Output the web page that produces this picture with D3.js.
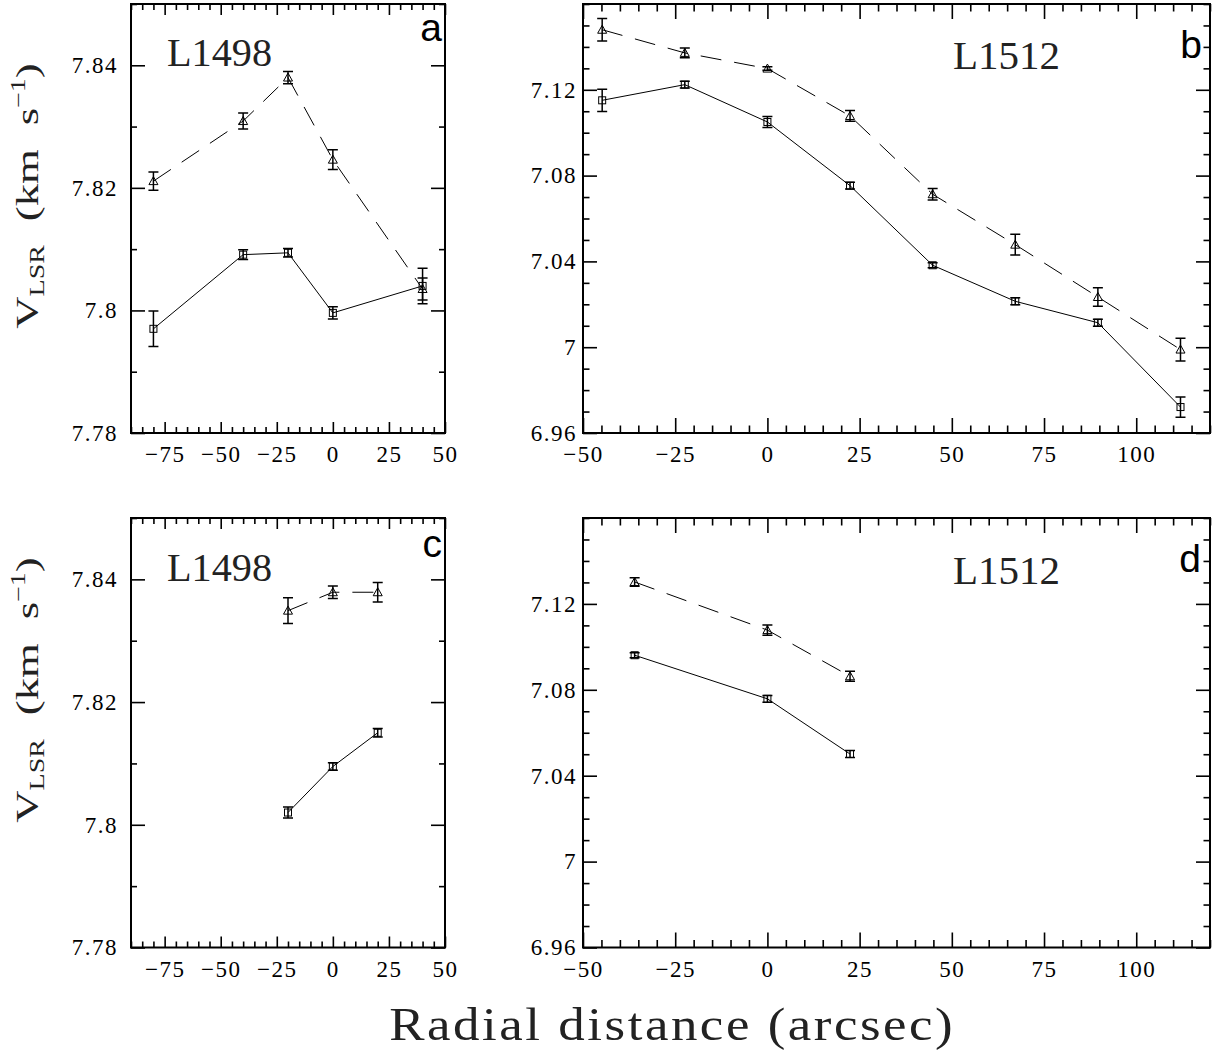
<!DOCTYPE html>
<html>
<head>
<meta charset="utf-8">
<script src="https://cdn.jsdelivr.net/npm/d3@7"></script>
<style>
  body { margin: 0; background: #fff; }
  svg { display: block; }
</style>
</head>
<body>
<script>
// radial velocity profiles, L1498 and L1512 (two cuts each)

// panel a: L1498, first cut
var aDist = [-80, -40, -20, 0, 40];
var aTri = [7.8211, 7.8309, 7.8380, 7.8246, 7.8035];
var aTriErr = [0.0015, 0.0013, 0.0010, 0.0016, 0.0018];
var aSq = [7.7970, 7.8091, 7.8094, 7.7996, 7.8040];
var aSqErr = [0.0029, 0.0008, 0.0007, 0.0010, 0.0029];

// panel b: L1512, first cut
var bDist = [-44.8, -22.4, 0, 22.4, 44.8, 67.2, 89.6, 112];
var bTri = [7.1480, 7.1372, 7.1299, 7.1078, 7.0713, 7.0478, 7.0234, 6.9989];
var bTriErr = [0.0052, 0.0023, 0.0008, 0.0025, 0.0027, 0.0048, 0.0043, 0.0053];
var bSq = [7.1151, 7.1224, 7.1050, 7.0753, 7.0382, 7.0214, 7.0114, 6.9721];
var bSqErr = [0.0052, 0.0016, 0.0026, 0.0016, 0.0012, 0.0016, 0.0016, 0.0047];

// panel c: L1498, second cut
var cDist = [-20, 0, 20];
var cTri = [7.8349, 7.8379, 7.8379];
var cTriErr = [0.0021, 0.0010, 0.0016];
var cSq = [7.8020, 7.8095, 7.8150];
var cSqErr = [0.0009, 0.0006, 0.0007];

// panel d: L1512, second cut
var dDist = [-36, 0, 22.4];
var dTri = [7.1302, 7.1078, 7.0863];
var dTriErr = [0.0020, 0.0024, 0.0023];
var dSq = [7.0961, 7.0758, 7.0501];
var dSqErr = [0.0012, 0.0016, 0.0016];

// axes
var l1498XTicks = [-75, -50, -25, 0, 25, 50];
var l1512XTicks = [-50, -25, 0, 25, 50, 75, 100];
var l1498YTicks = [7.78, 7.80, 7.82, 7.84];
var l1512YTicks = [6.96, 7.00, 7.04, 7.08, 7.12];

var W = 1215, H = 1052;
var serif = '"Liberation Serif", "Times New Roman", serif';
var sans = '"Liberation Sans", Arial, sans-serif';

var svg = d3.select('body').append('svg').attr('width', W).attr('height', H);

var mk = function(xs, ys, es) {
  return xs.map(function(x, i) { return {x: x, y: ys[i], e: es[i]}; });
};

var panels = [
  {left: 131, right: 445, top: 4, bottom: 433, xDom: [-90, 50], yDom: [7.78, 7.85],
   xTicks: l1498XTicks, yTicks: l1498YTicks, xLen: [11, 6], yLen: [14, 6], yPad: 13,
   name: 'L1498', nameX: 167, nameY: 66, nameW: 105, letter: 'a', letterY: 41, letterR: 442,
   tri: mk(aDist, aTri, aTriErr), sq: mk(aDist, aSq, aSqErr)},
  {left: 583, right: 1210, top: 4, bottom: 433, xDom: [-50, 120], yDom: [6.96, 7.16],
   xTicks: l1512XTicks, yTicks: l1512YTicks, xLen: [15, 7.5], yLen: [14, 6.5], yPad: 6,
   name: 'L1512', nameX: 953, nameY: 69, nameW: 107, letter: 'b', letterY: 58, letterR: 1202,
   tri: mk(bDist, bTri, bTriErr), sq: mk(bDist, bSq, bSqErr)},
  {left: 131, right: 445, top: 518, bottom: 947.5, xDom: [-90, 50], yDom: [7.78, 7.85],
   xTicks: l1498XTicks, yTicks: l1498YTicks, xLen: [11, 6], yLen: [14, 6], yPad: 13,
   name: 'L1498', nameX: 167, nameY: 581, nameW: 105, letter: 'c', letterY: 557, letterR: 442,
   tri: mk(cDist, cTri, cTriErr), sq: mk(cDist, cSq, cSqErr)},
  {left: 583, right: 1210, top: 518, bottom: 947.5, xDom: [-50, 120], yDom: [6.96, 7.16],
   xTicks: l1512XTicks, yTicks: l1512YTicks, xLen: [15, 7.5], yLen: [14, 6.5], yPad: 6,
   name: 'L1512', nameX: 953, nameY: 584, nameW: 107, letter: 'd', letterY: 572, letterR: 1201,
   tri: mk(dDist, dTri, dTriErr), sq: mk(dDist, dSq, dSqErr)}
];

var yFmt = function(d) { return String(+d.toFixed(2)); };

var styleAxis = function(sel) {
  sel.attr('font-family', serif).attr('font-size', 23);
  sel.select('.domain').remove();
  sel.selectAll('.tick line').attr('stroke', '#000').attr('stroke-width', 1.6);
  sel.selectAll('.tick text').attr('fill', '#000')
    .attr('font-family', serif).style('font-family', serif)
    .style('font-size', '23px').style('letter-spacing', '1.5px');
};

var drawPanel = function(p) {
  var x = d3.scaleLinear().domain(p.xDom).range([p.left, p.right]);
  var y = d3.scaleLinear().domain(p.yDom).range([p.bottom, p.top]);
  var g = svg.append('g');

  // minor tick positions (every 5 arcsec, every 0.01 km/s)
  var xMinor = [];
  for (var v = Math.ceil(p.xDom[0] / 5) * 5; v <= p.xDom[1]; v += 5) {
    if (v % 25 !== 0) xMinor.push(v);
  }
  var yMinor = [];
  var lo = Math.round(p.yDom[0] * 100), hi = Math.round(p.yDom[1] * 100);
  for (var k = lo; k <= hi; k++) {
    var yv = k / 100;
    if (!p.yTicks.some(function(t) { return Math.abs(t - yv) < 1e-6; })) yMinor.push(yv);
  }

  // bottom, top
  g.append('g').attr('transform', 'translate(0,' + p.bottom + ')')
    .call(d3.axisBottom(x).tickValues(p.xTicks).tickSize(-p.xLen[0]).tickPadding(13).tickFormat(d3.format('d')))
    .call(styleAxis);
  g.append('g').attr('transform', 'translate(0,' + p.bottom + ')')
    .call(d3.axisBottom(x).tickValues(xMinor).tickSize(-p.xLen[1]).tickFormat(''))
    .call(styleAxis);
  g.append('g').attr('transform', 'translate(0,' + p.top + ')')
    .call(d3.axisTop(x).tickValues(p.xTicks).tickSize(-p.xLen[0]).tickFormat(''))
    .call(styleAxis);
  g.append('g').attr('transform', 'translate(0,' + p.top + ')')
    .call(d3.axisTop(x).tickValues(xMinor).tickSize(-p.xLen[1]).tickFormat(''))
    .call(styleAxis);

  // left, right
  g.append('g').attr('transform', 'translate(' + p.left + ',0)')
    .call(d3.axisLeft(y).tickValues(p.yTicks).tickSize(-p.yLen[0]).tickPadding(p.yPad).tickFormat(yFmt))
    .call(styleAxis);
  g.append('g').attr('transform', 'translate(' + p.left + ',0)')
    .call(d3.axisLeft(y).tickValues(yMinor).tickSize(-p.yLen[1]).tickFormat(''))
    .call(styleAxis);
  g.append('g').attr('transform', 'translate(' + p.right + ',0)')
    .call(d3.axisRight(y).tickValues(p.yTicks).tickSize(-p.yLen[0]).tickFormat(''))
    .call(styleAxis);
  g.append('g').attr('transform', 'translate(' + p.right + ',0)')
    .call(d3.axisRight(y).tickValues(yMinor).tickSize(-p.yLen[1]).tickFormat(''))
    .call(styleAxis);

  g.append('rect').attr('x', p.left).attr('y', p.top)
    .attr('width', p.right - p.left).attr('height', p.bottom - p.top)
    .attr('fill', 'none').attr('stroke', '#000').attr('stroke-width', 2);

  var line = d3.line().x(function(d) { return x(d.x); }).y(function(d) { return y(d.y); });

  g.append('path').datum(p.tri).attr('d', line)
    .attr('fill', 'none').attr('stroke', '#000').attr('stroke-width', 1)
    .attr('stroke-dasharray', '21 13');
  g.append('path').datum(p.sq).attr('d', line)
    .attr('fill', 'none').attr('stroke', '#000').attr('stroke-width', 1);

  var bars = function(data) {
    var eb = g.append('g').attr('stroke', '#000').attr('stroke-width', 1.5).attr('fill', 'none');
    eb.selectAll('path').data(data).enter().append('path')
      .attr('d', function(d) {
        var cx = x(d.x), y1 = y(d.y - d.e), y2 = y(d.y + d.e);
        return 'M' + cx + ',' + y1 + 'V' + y2 +
               'M' + (cx - 5) + ',' + y1 + 'H' + (cx + 5) +
               'M' + (cx - 5) + ',' + y2 + 'H' + (cx + 5);
      });
  };
  bars(p.tri);
  bars(p.sq);

  g.selectAll('.tri').data(p.tri).enter().append('path')
    .attr('d', function(d) {
      var cx = x(d.x), cy = y(d.y);
      return 'M' + (cx - 4.5) + ',' + (cy + 3.5) + 'L' + cx + ',' + (cy - 4.5) + 'L' + (cx + 4.5) + ',' + (cy + 3.5) + 'Z';
    })
    .attr('fill', 'none').attr('stroke', '#000').attr('stroke-width', 1);
  g.selectAll('.sq').data(p.sq).enter().append('rect')
    .attr('x', function(d) { return x(d.x) - 3.5; })
    .attr('y', function(d) { return y(d.y) - 3.5; })
    .attr('width', 7).attr('height', 7)
    .attr('fill', 'none').attr('stroke', '#000').attr('stroke-width', 1);

  g.append('text').attr('x', p.nameX).attr('y', p.nameY)
    .attr('textLength', p.nameW).attr('lengthAdjust', 'spacingAndGlyphs')
    .attr('font-family', serif).attr('font-size', 39).attr('fill', '#222')
    .text(p.name);
  g.append('text').attr('x', p.letterR).attr('y', p.letterY)
    .attr('text-anchor', 'end')
    .attr('font-family', sans).attr('font-size', 39).attr('fill', '#000')
    .text(p.letter);
};

panels.forEach(drawPanel);

// y axis titles
[196, 690].forEach(function(cy) {
  var t = svg.append('text')
    .attr('transform', 'translate(38,' + cy + ') rotate(-90) scale(1.4,1)')
    .attr('text-anchor', 'middle')
    .attr('font-family', serif).attr('font-size', 32)
    .style('word-spacing', '9px')
    .attr('fill', '#222');
  t.append('tspan').text('V');
  t.append('tspan').attr('dy', 6).attr('font-size', 20).text('LSR');
  t.append('tspan').attr('dy', -6).text(' (km s');
  t.append('tspan').attr('dy', -13).attr('font-size', 20).text('\u22121');
  t.append('tspan').attr('dy', 13).text(')');
});

// x axis title
svg.append('text')
  .attr('transform', 'translate(671,1040) scale(1.15,1)')
  .attr('text-anchor', 'middle')
  .attr('textLength', 490).attr('lengthAdjust', 'spacing')
  .attr('font-family', serif).attr('font-size', 46).attr('fill', '#222')
  .text('Radial distance (arcsec)');
</script>
</body>
</html>
